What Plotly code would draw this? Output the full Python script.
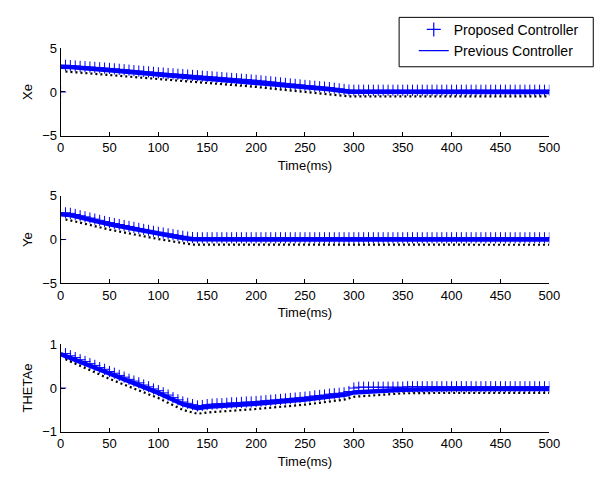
import numpy as np
import plotly.graph_objects as go

# ---------------- data ----------------
t_marks = np.arange(0, 501, 5)  # sample times (ms) of the "+" markers

xe_prop = [0.0,
           3.06, 3.02, 2.98, 2.94, 2.90, 2.86, 2.82, 2.78, 2.74, 2.70,
           2.65, 2.60, 2.55, 2.50, 2.45, 2.40, 2.35, 2.30, 2.25, 2.20,
           2.16, 2.11, 2.07, 2.03, 1.99, 1.94, 1.90, 1.86, 1.81, 1.77,
           1.73, 1.68, 1.64, 1.59, 1.55, 1.51, 1.46, 1.42, 1.37, 1.33,
           1.27, 1.21, 1.16, 1.10, 1.04, 0.98, 0.92, 0.87, 0.81, 0.75,
           0.70, 0.65, 0.60, 0.55, 0.50, 0.43, 0.36, 0.29, 0.22, 0.20,
           0.20, 0.20, 0.20, 0.20, 0.20, 0.20, 0.20, 0.20, 0.20, 0.20,
           0.20, 0.20, 0.20, 0.20, 0.20, 0.20, 0.20, 0.20, 0.20, 0.20,
           0.20, 0.20, 0.20, 0.20, 0.20, 0.20, 0.20, 0.20, 0.20, 0.20,
           0.20, 0.20, 0.20, 0.20, 0.20, 0.20, 0.20, 0.20, 0.20, 0.20]
xe_prev_t = [0, 10, 50, 100, 150, 200, 250, 275, 295, 500]
xe_prev = [2.9, 2.85, 2.5, 2.0, 1.57, 1.13, 0.55, 0.3, 0.02, 0.0]
xe_ref_t = [5, 50, 100, 150, 200, 250, 275, 295, 500]
xe_ref = [2.35, 1.95, 1.45, 1.02, 0.58, 0.0, -0.25, -0.5, -0.5]

ye_prop = [0.0,
           3.06, 3.00, 2.87, 2.73, 2.60, 2.47, 2.34, 2.20, 2.07, 1.94,
           1.83, 1.72, 1.61, 1.50, 1.39, 1.27, 1.16, 1.05, 0.94, 0.83,
           0.74, 0.65, 0.56, 0.47, 0.38, 0.28, 0.22,
           0.20, 0.20, 0.20, 0.20, 0.20, 0.20, 0.20, 0.20, 0.20, 0.20,
           0.20, 0.20, 0.20, 0.20, 0.20, 0.20, 0.20, 0.20, 0.20, 0.20,
           0.20, 0.20, 0.20, 0.20, 0.20, 0.20, 0.20, 0.20, 0.20, 0.20,
           0.20, 0.20, 0.20, 0.20, 0.20, 0.20, 0.20, 0.20, 0.20, 0.20,
           0.20, 0.20, 0.20, 0.20, 0.20, 0.20, 0.20, 0.20, 0.20, 0.20,
           0.20, 0.20, 0.20, 0.20, 0.20, 0.20, 0.20, 0.20, 0.20, 0.20,
           0.20, 0.20, 0.20, 0.20, 0.20, 0.20, 0.20, 0.20, 0.20, 0.20,
           0.20, 0.20, 0.20]
ye_prev_t = [0, 10, 50, 100, 125, 135, 500]
ye_prev = [2.9, 2.8, 1.74, 0.63, 0.18, 0.02, 0.0]
ye_ref_t = [5, 10, 50, 100, 125, 135, 500]
ye_ref = [2.3, 2.2, 1.14, 0.05, -0.4, -0.58, -0.6]

th_prop = [0.0,
           0.79, 0.74, 0.70, 0.65, 0.61, 0.56, 0.52, 0.47, 0.43, 0.38,
           0.34, 0.29, 0.25, 0.20, 0.16, 0.12, 0.07, 0.03, -0.02, -0.06,
           -0.11, -0.16, -0.22, -0.27, -0.32, -0.35, -0.38, -0.41, -0.40, -0.38,
           -0.37, -0.36, -0.36, -0.35, -0.34, -0.34, -0.33, -0.32, -0.32, -0.31,
           -0.30, -0.29, -0.28, -0.27, -0.26, -0.25, -0.24, -0.23, -0.22, -0.21,
           -0.20, -0.18, -0.17, -0.16, -0.14, -0.13, -0.12, -0.11, -0.08, 0.00,
           0.02, 0.02, 0.02, 0.02, 0.02, 0.02, 0.02, 0.02, 0.02, 0.02,
           0.03, 0.03, 0.03, 0.03, 0.03, 0.03, 0.03, 0.03, 0.03, 0.03,
           0.03, 0.03, 0.03, 0.03, 0.03, 0.03, 0.03, 0.03, 0.03, 0.03,
           0.03, 0.03, 0.03, 0.03, 0.03, 0.03, 0.03, 0.03, 0.03, 0.03]
th_prev_t = [0, 50, 100, 125, 140, 150, 200, 250, 292, 300, 350, 400, 500]
th_prev = [0.78, 0.33, -0.11, -0.37, -0.46, -0.43, -0.36, -0.26, -0.15, -0.1, -0.04, -0.02, -0.02]
th_ref_t = [5, 50, 100, 125, 140, 150, 200, 250, 292, 300, 350, 400, 500]
th_ref = [0.66, 0.21, -0.23, -0.5, -0.59, -0.56, -0.48, -0.38, -0.26, -0.2, -0.12, -0.11, -0.11]

x_ticks = [0, 50, 100, 150, 200, 250, 300, 350, 400, 450, 500]
y_labels = ["Xe", "Ye", "THETAe"]
y_ranges = [[-5, 5], [-5, 5], [-1, 1]]
y_ticks = [[-5, 0, 5], [-5, 0, 5], [-1, 0, 1]]
legend_names = ["Proposed Controller", "Previous Controller"]

# ---------------- figure ----------------
W, H = 615, 482
BLUE = "#0000ff"
FONT = "Liberation Sans, Arial, sans-serif"

fig = go.Figure()
series = [(xe_prop, xe_prev_t, xe_prev, xe_ref_t, xe_ref),
          (ye_prop, ye_prev_t, ye_prev, ye_ref_t, ye_ref),
          (th_prop, th_prev_t, th_prev, th_ref_t, th_ref)]

for i, (prop, pt, pv, rt, rv) in enumerate(series):
    xa = "x" if i == 0 else f"x{i+1}"
    ya = "y" if i == 0 else f"y{i+1}"
    fig.add_trace(go.Scatter(x=t_marks, y=prop, mode="markers", xaxis=xa, yaxis=ya,
                             marker=dict(symbol="cross-thin", size=8,
                                         line=dict(color=BLUE, width=1)),
                             showlegend=False, hoverinfo="skip"))
    fig.add_trace(go.Scatter(x=rt, y=rv, mode="lines", xaxis=xa, yaxis=ya,
                             line=dict(color="black", width=2.2, dash="2px,3px"),
                             showlegend=False, hoverinfo="skip"))
    fig.add_trace(go.Scatter(x=pt, y=pv, mode="lines", xaxis=xa, yaxis=ya,
                             line=dict(color=BLUE, width=4.5),
                             showlegend=False, hoverinfo="skip"))

# legend entries
fig.add_trace(go.Scatter(x=[None], y=[None], mode="markers", name=legend_names[0],
                         marker=dict(symbol="cross-thin", size=10,
                                     line=dict(color=BLUE, width=1.2))))
fig.add_trace(go.Scatter(x=[None], y=[None], mode="lines", name=legend_names[1],
                         line=dict(color=BLUE, width=1.2)))

x_dom = [58 / W, 559 / W]
y_px = [(42.7, 132.7), (195, 285), (348.3, 438.3)]

axis_common = dict(showline=True, linecolor="black", linewidth=1, mirror=False,
                   ticks="inside", ticklen=4, tickcolor="black", tickwidth=1,
                   showgrid=False, zeroline=False,
                   tickfont=dict(family=FONT, size=13, color="black"))

layout = dict(width=W, height=H, margin=dict(l=0, r=0, t=0, b=0),
              paper_bgcolor="white", plot_bgcolor="white",
              font=dict(family=FONT, size=13, color="black"))
for i in range(3):
    sfx = "" if i == 0 else str(i + 1)
    top, bot = y_px[i]
    layout["xaxis" + sfx] = dict(axis_common, domain=x_dom, range=[0, 500],
                                 tickvals=x_ticks, anchor="y" + sfx,
                                 ticklabelstandoff=0,
                                 title=dict(text="Time(ms)", standoff=6,
                                            font=dict(family=FONT, size=13)))
    layout["yaxis" + sfx] = dict(axis_common, domain=[1 - bot / H, 1 - top / H],
                                 range=y_ranges[i], tickvals=y_ticks[i],
                                 anchor="x" + sfx, ticklabelstandoff=0,
                                 title=dict(text=y_labels[i], standoff=6,
                                            font=dict(family=FONT, size=13)))

layout["legend"] = dict(x=420 / W, y=1 - 7 / H, xanchor="left", yanchor="top",
                        bgcolor="rgba(0,0,0,0)", borderwidth=0,
                        font=dict(family=FONT, size=14, color="black"))
layout["shapes"] = [dict(type="rect", xref="paper", yref="paper",
                         x0=405 / W, x1=604 / W, y0=1 - 61.7 / H, y1=1 - 10.7 / H,
                         line=dict(color="black", width=1), fillcolor="white",
                         layer="below")]
fig.update_layout(**layout)
fig.write_html("out.html")
